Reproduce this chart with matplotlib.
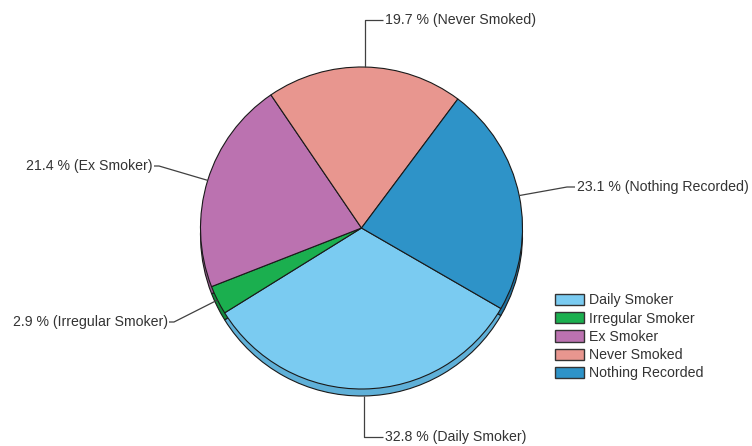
import numpy as np
import matplotlib
matplotlib.use("Agg")
import matplotlib.pyplot as plt
from matplotlib.patches import Patch

categories = ["Daily Smoker", "Irregular Smoker", "Ex Smoker", "Never Smoked", "Nothing Recorded"]
values = [32.8, 2.9, 21.4, 19.7, 23.1]
colors = ["#7ACBF1", "#1BAF4F", "#BB72B0", "#E8968F", "#2E93C8"]
side_colors = ["#5FB0D8", "#138A3C", "#955A8C", "#C47670", "#1F72A0"]

W, H = 752, 446
fig = plt.figure(figsize=(W / 100, H / 100), dpi=100)
ax = fig.add_axes([0, 0, 1, 1])

cx, cy, r = 361.5, H - 228, 161
depth = 7
common = dict(startangle=-30, counterclock=False, radius=r, frame=True,
              wedgeprops=dict(edgecolor="#1a1a1a", linewidth=0.8))

# side (3D depth)
ax.pie(values, colors=side_colors, center=(cx, cy - depth), **common)
# top face
wedges, _ = ax.pie(values, colors=colors, center=(cx, cy), **common)

ax.set_aspect("auto")
ax.set_xlim(0, W)
ax.set_ylim(0, H)
ax.axis("off")

# label layout: text anchor in px from top
layout = {
    "Daily Smoker": dict(tx=385, ty=437, ha="left", vert=True, edge_depth=True),
    "Irregular Smoker": dict(tx=168, ty=322, ha="right", vert=False),
    "Ex Smoker": dict(tx=153, ty=166, ha="right", vert=False),
    "Never Smoked": dict(tx=385, ty=20, ha="left", vert=True),
    "Nothing Recorded": dict(tx=577, ty=187, ha="left", vert=False),
}

txt_color = "#333333"
fs = 10.2
for w, cat, val in zip(wedges, categories, values):
    mid = np.deg2rad((w.theta1 + w.theta2) / 2)
    ex = cx + r * np.cos(mid)
    ey = cy + r * np.sin(mid)
    L = layout[cat]
    tx, ty = L["tx"], H - L["ty"]
    if L.get("edge_depth"):
        ey -= depth
    if L["vert"]:
        xs = [ex, ex, tx - 2]
        ys = [ey, ty, ty]
    elif L["ha"] == "left":
        xs = [ex, tx - 10, tx - 2]
        ys = [ey, ty, ty]
    else:
        xs = [ex, tx + 6, tx + 1]
        ys = [ey, ty, ty]
    ax.plot(xs, ys, color="#404040", linewidth=0.9, solid_capstyle="butt")
    ax.text(tx, ty, f"{val} % ({cat})", ha=L["ha"], va="center",
            fontsize=fs, color=txt_color, family="Liberation Sans")

handles = [Patch(facecolor=c, edgecolor="#333333", linewidth=1.0) for c in colors]
leg = ax.legend(handles, categories, loc="upper left",
                bbox_to_anchor=(554 / W, 1 - 292 / H), bbox_transform=fig.transFigure,
                frameon=False, handlelength=2.0, handleheight=0.85,
                handletextpad=0.4, labelspacing=0.3, borderaxespad=0,
                borderpad=0.1,
                prop=dict(family="Liberation Sans", size=fs))
for t in leg.get_texts():
    t.set_color(txt_color)

fig.savefig("out.png", dpi=100)
